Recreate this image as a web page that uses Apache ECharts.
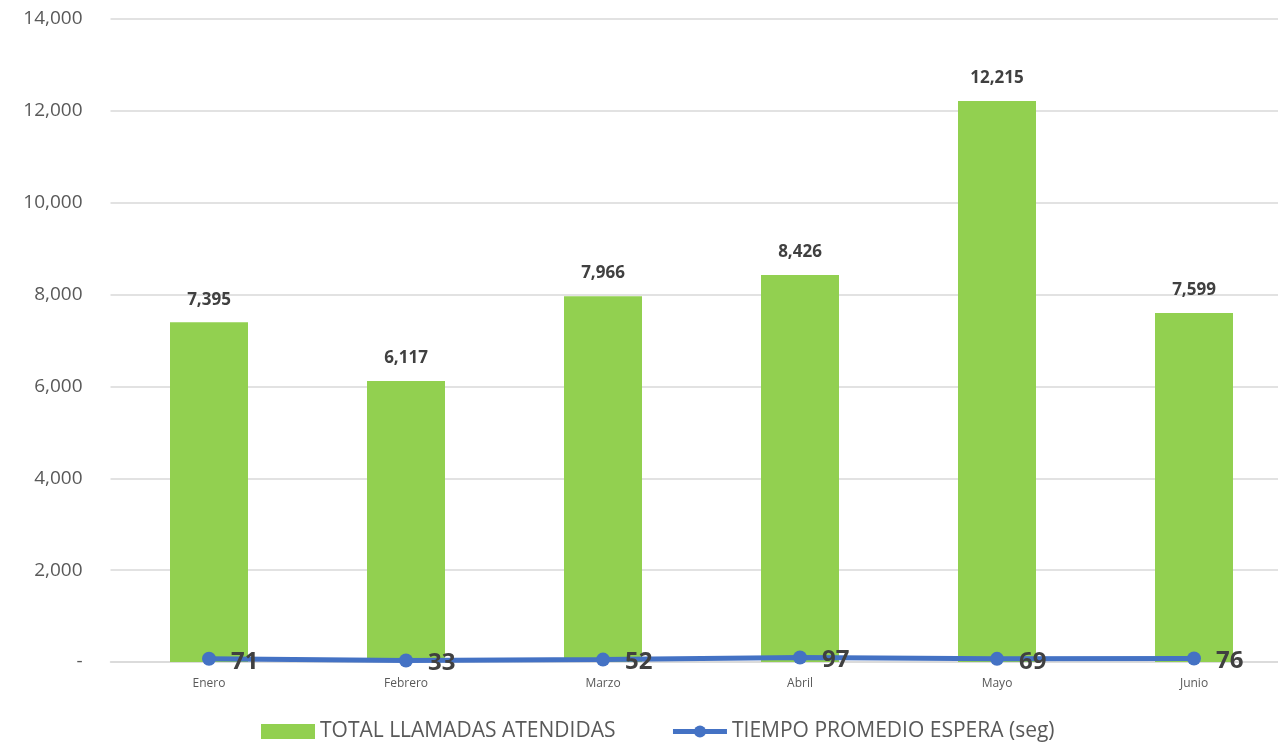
<!DOCTYPE html>
<html><head><meta charset="utf-8">
<script src="https://cdn.jsdelivr.net/npm/echarts@6/dist/echarts.min.js"></script>
<style>html,body{margin:0;padding:0;background:#fff}#c{width:1278px;height:747px}</style>
</head><body><div id="c"></div>
<script>
const categories = ['Enero','Febrero','Marzo','Abril','Mayo','Junio'];
const llamadas = [7395, 6117, 7966, 8426, 12215, 7599];
const espera = [71, 33, 52, 97, 69, 76];
const yTicks = {min: 0, max: 14000, interval: 2000};
const FONT = '"Open Sans", "Noto Sans", sans-serif';
const chart = echarts.init(document.getElementById('c'));
chart.setOption({
  animation: false,
  textStyle: {fontFamily: FONT},
  grid: {left: 110.5, width: 1182, top: 19, height: 643, containLabel: false, outerBoundsMode: 'none'},
  legend: {
    bottom: 0, left: 256, itemGap: 55, itemWidth: 54, itemHeight: 15,
    textStyle: {fontSize: 21, color: '#595959', fontFamily: FONT},
    data: [
      {name: 'TOTAL LLAMADAS ATENDIDAS', icon: 'rect'},
      {name: 'TIEMPO PROMEDIO ESPERA (seg)', lineStyle: {width: 5}}
    ]
  },
  xAxis: {
    type: 'category', data: categories,
    axisLine: {lineStyle: {color: '#d9d9d9', width: 1.5}},
    axisTick: {show: false},
    axisLabel: {color: '#595959', fontSize: 12, margin: 16, fontFamily: FONT}
  },
  yAxis: {
    type: 'value', min: yTicks.min, max: yTicks.max, interval: yTicks.interval,
    axisLine: {show: false}, axisTick: {show: false},
    splitLine: {lineStyle: {color: '#d9d9d9', width: 1.5}},
    axisLabel: {
      color: '#595959', fontSize: 19, margin: 28, fontFamily: FONT,
      formatter: v => v === 0 ? '-' : v.toLocaleString('en-US')
    }
  },
  series: [
    {
      name: 'TOTAL LLAMADAS ATENDIDAS', type: 'bar', data: llamadas,
      barWidth: 78, itemStyle: {color: '#92D050'},
      label: {show: true, position: 'top', distance: 14, color: '#404040', fontSize: 17, fontWeight: 'bold', fontFamily: FONT,
        formatter: p => p.value.toLocaleString('en-US')}
    },
    {
      name: 'TIEMPO PROMEDIO ESPERA (seg)', type: 'line', data: espera,
      symbol: 'circle', symbolSize: 14,
      lineStyle: {color: '#4472C4', width: 5}, itemStyle: {color: '#4472C4'},
      label: {show: true, position: 'right', distance: 15, color: '#404040', fontSize: 24, fontWeight: 'bold', fontFamily: FONT, offset: [0, 3]}
    }
  ]
});
</script></body></html>
